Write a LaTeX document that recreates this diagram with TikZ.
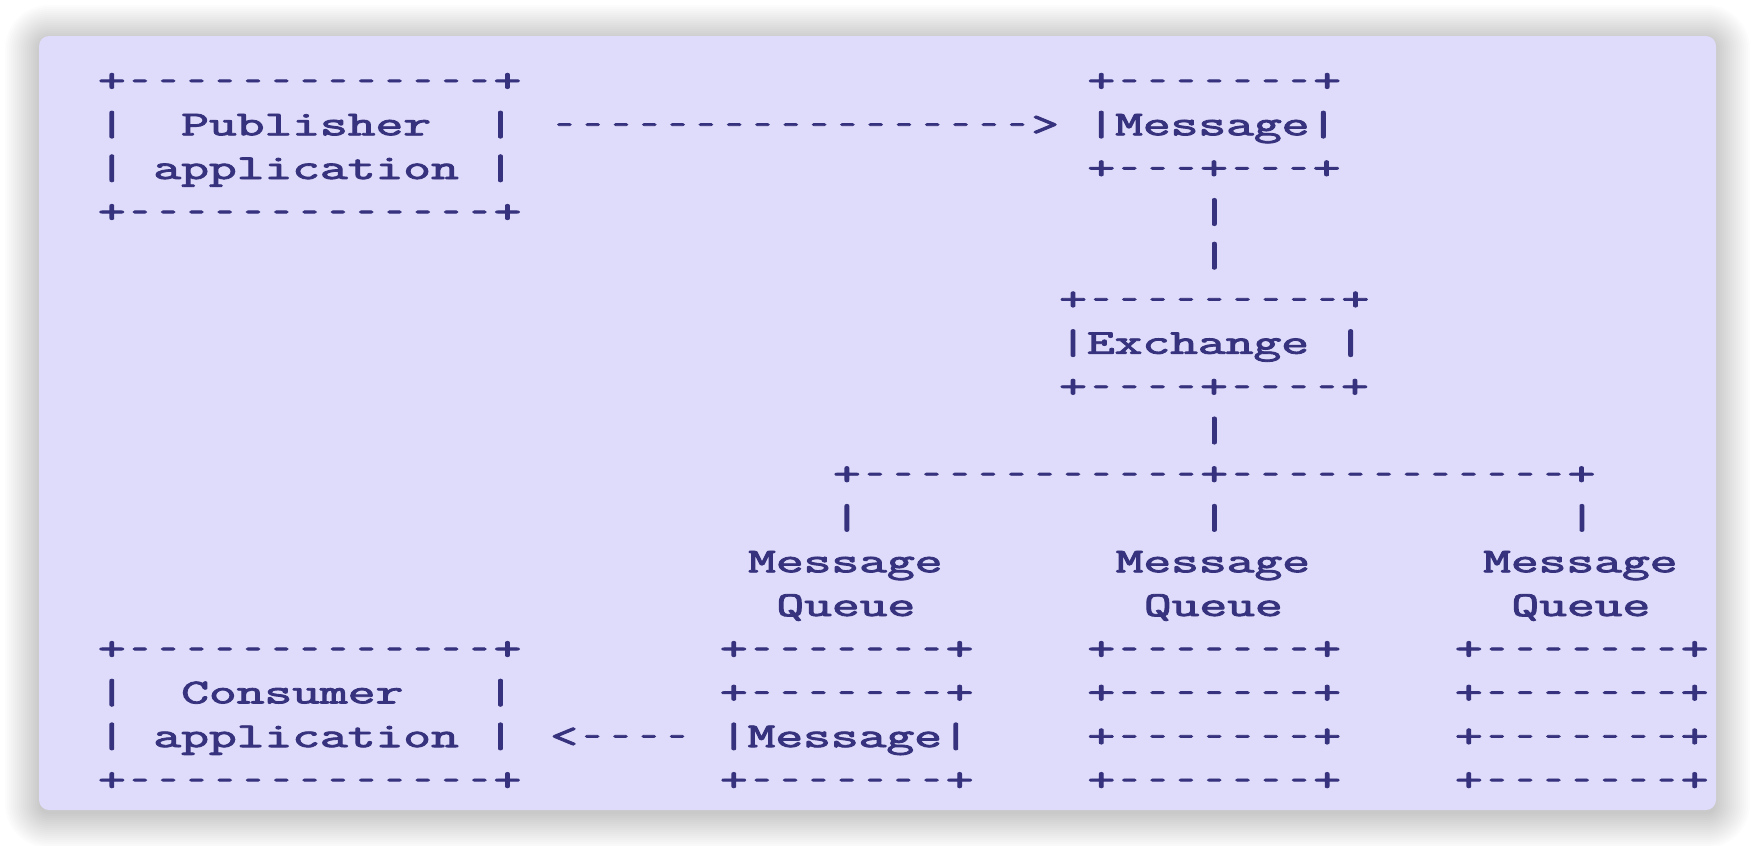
\documentclass[tikz,border=0pt]{standalone}
\usepackage{fontspec}
\usepackage{graphicx}
\newfontfamily\asc{Latin Modern Mono}[FakeBold=2.3,Ligatures=TeXOff]
\definecolor{ink}{RGB}{55,50,125}
\definecolor{lav}{RGB}{222,220,250}
\newcommand\tx[1]{\scalebox{1.54}[1]{\fontsize{17.5}{20}\asc #1}}
\newcommand\dsh{\makebox[0.525em][c]{\scalebox{0.62}[1]{-}}}
\ExplSyntaxOn
\cs_new:Npn \D #1 {\prg_replicate:nn{#1}{\dsh}}
\ExplSyntaxOff
\newcommand\cellat[2]{({55.85+(#1-0.5)*14.135},{45.8+#2*21.85})}
\tikzset{
  asc/.style={inner sep=0pt, anchor=base west, text=ink},
  panel/.style={fill=lav, rounded corners=5pt},
  shadowring/.style={fill=black, fill opacity=0.01, draw=none}
}
\begin{document}
\begin{tikzpicture}[x=1pt,y=-1pt]
\fill[white] (0,0) rectangle (876,423);
\useasboundingbox (0,0) rectangle (876,423);
\foreach \s in {17,16,...,0}{
  \path[shadowring, rounded corners={5pt+\s pt}] ({19.5-\s},{19.5-\s}) rectangle ({858+\s},{407+\s});
}
\path[panel] (19.5,18) rectangle (858,405);
% publisher
\node[asc] (pub0) at \cellat{0}{0} {\tx{+\D{13}+}};
\node[asc] (pub1) at \cellat{0}{1} {\tx{|~~Publisher~~|}};
\node[asc] (pub2) at \cellat{0}{2} {\tx{|~application~|}};
\node[asc] (pub3) at \cellat{0}{3} {\tx{+\D{13}+}};
% arrow to message
\node[asc] (arr1) at \cellat{16}{1} {\tx{\D{17}>}};
% message top
\node[asc] (msg0) at \cellat{35}{0} {\tx{+\D{7}+}};
\node[asc] (msg1) at \cellat{35}{1} {\tx{|Message|}};
\node[asc] (msg2) at \cellat{35}{2} {\tx{+\D{3}+\D{3}+}};
\node[asc] (v3) at \cellat{39}{3} {\tx{|}};
\node[asc] (v4) at \cellat{39}{4} {\tx{|}};
% exchange
\node[asc] (ex0) at \cellat{34}{5} {\tx{+\D{9}+}};
\node[asc] (ex1) at \cellat{34}{6} {\tx{|Exchange~|}};
\node[asc] (ex2) at \cellat{34}{7} {\tx{+\D{4}+\D{4}+}};
\node[asc] (v8) at \cellat{39}{8} {\tx{|}};
\node[asc] (br) at \cellat{26}{9} {\tx{+\D{12}+\D{12}+}};
\node[asc] (va) at \cellat{26}{10} {\tx{|}};
\node[asc] (vb) at \cellat{39}{10} {\tx{|}};
\node[asc] (vc) at \cellat{52}{10} {\tx{|}};
\node[asc] (qa0) at \cellat{23}{11} {\tx{Message}};
\node[asc] (qb0) at \cellat{36}{11} {\tx{Message}};
\node[asc] (qc0) at \cellat{49}{11} {\tx{Message}};
\node[asc] (qa1) at \cellat{24}{12} {\tx{Queue}};
\node[asc] (qb1) at \cellat{37}{12} {\tx{Queue}};
\node[asc] (qc1) at \cellat{50}{12} {\tx{Queue}};
% consumer
\node[asc] (con0) at \cellat{0}{13} {\tx{+\D{13}+}};
\node[asc] (con1) at \cellat{0}{14} {\tx{|~~Consumer~~~|}};
\node[asc] (con2) at \cellat{0}{15} {\tx{|~application~|}};
\node[asc] (con3) at \cellat{0}{16} {\tx{+\D{13}+}};
\node[asc] (arr2) at \cellat{16}{15} {\tx{<\D{4}}};
% queue boxes
\node[asc] (ba13) at \cellat{22}{13} {\tx{+\D{7}+}};
\node[asc] (ba14) at \cellat{22}{14} {\tx{+\D{7}+}};
\node[asc] (ba15) at \cellat{22}{15} {\tx{|Message|}};
\node[asc] (ba16) at \cellat{22}{16} {\tx{+\D{7}+}};
\node[asc] (bb13) at \cellat{35}{13} {\tx{+\D{7}+}};
\node[asc] (bb14) at \cellat{35}{14} {\tx{+\D{7}+}};
\node[asc] (bb15) at \cellat{35}{15} {\tx{+\D{7}+}};
\node[asc] (bb16) at \cellat{35}{16} {\tx{+\D{7}+}};
\node[asc] (bc13) at \cellat{48}{13} {\tx{+\D{7}+}};
\node[asc] (bc14) at \cellat{48}{14} {\tx{+\D{7}+}};
\node[asc] (bc15) at \cellat{48}{15} {\tx{+\D{7}+}};
\node[asc] (bc16) at \cellat{48}{16} {\tx{+\D{7}+}};
\end{tikzpicture}
\end{document}
